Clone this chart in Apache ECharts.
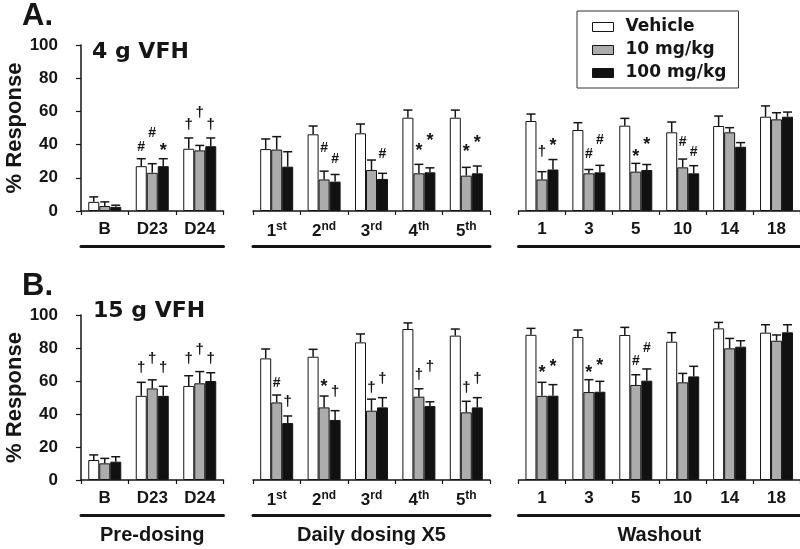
<!DOCTYPE html>
<html><head><meta charset="utf-8">
<script src="https://cdn.jsdelivr.net/npm/echarts@6/dist/echarts.min.js"></script>
<style>html,body{margin:0;padding:0;background:#fff}#c{width:800px;height:549px}</style>
</head><body><div id="c"></div>
<script>
// ---------------- DATA ----------------
const seriesNames = ['Vehicle', '10 mg/kg', '100 mg/kg'];
const groupNames = ['Pre-dosing', 'Daily dosing X5', 'Washout'];
const catsPre = ['B', 'D23', 'D24'];
const catsDaily = ['1st', '2nd', '3rd', '4th', '5th'];
const catsWash = ['1', '3', '5', '10', '14', '18'];
const yTicks = [0, 20, 40, 60, 80, 100];
const panelLetters = ['A.', 'B.'];
const panelTitles = ['4 g VFH', '15 g VFH'];
const yName = '% Response';

// column order: B, D23, D24, 1st..5th, washout 1, 3, 5, 10, 14, 18
// Panel A (4 g VFH)
const vehA      = [5.5, 27, 37.5, 37.3, 46.2, 46.8, 56.2, 56.2, 54.2, 48.8, 51.4, 47.4, 51.2, 56.8];
const vehA_err  = [3, 4.5, 6.5, 6.1, 5, 5.6, 4.6, 4.6, 4.2, 4.4, 4.4, 6.2, 6, 6.5];
const lowA      = [3, 23, 36.5, 37, 19, 24.7, 22.7, 21.3, 19, 22.7, 23.7, 26.3, 47.4, 55.2];
const lowA_err  = [2.5, 5.5, 3, 7.8, 5, 6, 5.4, 5, 4.7, 2.3, 5, 5, 2.8, 4];
const highA     = [2.5, 27, 39, 26.7, 17.7, 19.3, 23.3, 22.7, 25, 23.3, 24.7, 22.7, 38.7, 56.8];
const highA_err = [1, 4.5, 5, 9, 4.3, 3.4, 2.7, 4.4, 6, 4.2, 3.3, 4.6, 2.5, 2.8];
const vehA_sig  = ['', '#', '†', '', '', '', '', '', '', '', '', '', '', ''];
const vehA_lvl  = [0, 38.7, 51.8, 0, 0, 0, 0, 0, 0, 0, 0, 0, 0, 0];
const lowA_sig  = ['', '#', '†', '', '#', '', '*', '*', '†', '#', '*', '#', '', ''];
const lowA_lvl  = [0, 46.8, 58.9, 0, 37.8, 0, 38.7, 37.8, 35.7, 34.3, 35.1, 41.7, 0, 0];
const highA_sig = ['', '*', '†', '', '#', '#', '*', '*', '*', '#', '*', '#', '', ''];
const highA_lvl = [0, 38.7, 51.8, 0, 31.1, 34.1, 44.8, 43.2, 41.7, 42.8, 42.2, 35.7, 0, 0];

// Panel B (15 g VFH)
const vehB      = [12.1, 51, 57, 73.7, 74.7, 83.4, 91.5, 87.5, 88, 86.7, 87.9, 83.8, 91.9, 89.3];
const vehB_err  = [3.1, 8.2, 6.2, 5.7, 4.5, 5.1, 3.7, 4, 3.9, 4.2, 4.6, 5.5, 3.6, 4.8];
const lowB      = [10.1, 55.5, 58.6, 47, 44, 42, 50.5, 41, 51, 53.3, 57.6, 59.2, 79.8, 84.4];
const lowB_err  = [3, 5.2, 7.1, 4.5, 6.9, 7, 4.8, 6.7, 8.2, 7.5, 6.2, 5.4, 6, 3.5];
const highB     = [11.1, 51, 60, 34.5, 36.4, 44, 44.8, 44, 51.1, 53.5, 60.2, 62.8, 80.8, 89.5];
const highB_err = [3, 5.8, 5, 4.3, 5.6, 5.9, 2.6, 5.9, 6.7, 6.3, 7.1, 6.1, 3.6, 4.6];
const vehB_sig  = ['', '†', '†', '', '', '', '', '', '', '', '', '', '', ''];
const vehB_lvl  = [0, 67.7, 73.7, 0, 0, 0, 0, 0, 0, 0, 0, 0, 0, 0];
const lowB_sig  = ['', '†', '†', '#', '*', '†', '†', '†', '*', '*', '#', '', '', ''];
const lowB_lvl  = [0, 73.7, 78.8, 58.6, 59, 55.6, 63.6, 55.6, 67.1, 67.1, 72.3, 0, 0, 0];
const highB_sig = ['', '†', '†', '†', '†', '†', '†', '†', '*', '*', '#', '', '', ''];
const highB_lvl = [0, 67.7, 73.7, 47.5, 53.5, 61, 68.3, 61.6, 71.1, 71.7, 79.8, 0, 0, 0];

// ---------------- BUILD ----------------
const panels = [
  { means: [vehA, lowA, highA], errs: [vehA_err, lowA_err, highA_err], sigs: [vehA_sig, lowA_sig, highA_sig], lvls: [vehA_lvl, lowA_lvl, highA_lvl] },
  { means: [vehB, lowB, highB], errs: [vehB_err, lowB_err, highB_err], sigs: [vehB_sig, lowB_sig, highB_sig], lvls: [vehB_lvl, lowB_lvl, highB_lvl] }
];
const segCats = [catsPre, catsDaily, catsWash];
const segStart = [0, catsPre.length, catsPre.length + catsDaily.length];

const rowsLayout = [{ top: 45, height: 166 }, { top: 315, height: 165 }];
const colsLayout = [{ left: 81, width: 142.5 }, { left: 253, width: 237 }, { left: 518.5, width: 285 }];
const fills = ['#ffffff', '#acacac', '#111111'];
const BAR_W = 11;
const INK = '#151515';
const FONT = 'Liberation Sans, Arial, sans-serif';
const symFont = { '#': 14, '†': 15, '*': 18 };
const symShift = { '#': 0, '†': 0, '*': 4 };

const grids = [], xAxes = [], yAxes = [], series = [];
const labelFmt = v => {
  const m = String(v).match(/^(\d+)(st|nd|rd|th)$/);
  return m ? '{n|' + m[1] + '}{s|' + m[2] + '}' : v;
};

rowsLayout.forEach((row, r) => {
  colsLayout.forEach((col, c) => {
    const g = r * 3 + c;
    grids.push({ left: col.left, width: col.width, top: row.top, height: row.height, containLabel: false });
    const cats = segCats[c];
    xAxes.push({
      type: 'category', gridIndex: g, data: cats, boundaryGap: true,
      axisLine: { lineStyle: { color: INK, width: 1.5 } },
      axisTick: { show: true, interval: 0, length: 4, lineStyle: { color: INK, width: 1.2 } },
      axisLabel: {
        interval: 0, margin: 10, color: INK, fontFamily: FONT, fontWeight: 'bold', fontSize: 17,
        formatter: labelFmt,
        rich: {
          n: { fontFamily: FONT, fontWeight: 'bold', fontSize: 17, color: INK, lineHeight: 20 },
          s: { fontFamily: FONT, fontWeight: 'bold', fontSize: 12, color: INK, lineHeight: 12, verticalAlign: 'top' }
        }
      },
      splitLine: { show: false }
    });
    xAxes.push({
      type: 'category', gridIndex: g, data: cats, position: 'bottom', offset: 35,
      axisLine: { lineStyle: { color: INK, width: 3 } },
      axisTick: { show: false }, axisLabel: { show: false }, splitLine: { show: false },
      name: r === 1 ? groupNames[c] : '', nameLocation: 'middle', nameGap: 10,
      nameTextStyle: { fontFamily: FONT, fontWeight: 'bold', fontSize: 20, color: INK }
    });
    yAxes.push({
      type: 'value', gridIndex: g, min: yTicks[0], max: yTicks[yTicks.length - 1], interval: yTicks[1] - yTicks[0],
      show: c === 0,
      axisLine: { show: true, lineStyle: { color: INK, width: 1.5 } },
      axisTick: { show: true, length: 5, lineStyle: { color: INK, width: 1.2 } },
      axisLabel: { margin: 23, color: INK, fontFamily: FONT, fontWeight: 'bold', fontSize: 17 },
      splitLine: { show: false },
      name: c === 0 ? yName : '', nameLocation: 'middle', nameRotate: 90, nameGap: 52,
      nameTextStyle: { fontFamily: FONT, fontWeight: 'bold', fontSize: 22, color: INK }
    });
    const p = panels[r];
    const st = segStart[c], en = st + cats.length;
    for (let s = 0; s < 3; s++) {
      series.push({
        type: 'bar', name: seriesNames[s], xAxisIndex: 2 * g, yAxisIndex: g,
        data: p.means[s].slice(st, en), barWidth: BAR_W, barGap: '0%',
        itemStyle: { color: fills[s], borderColor: INK, borderWidth: 1 },
        silent: true
      });
    }
    for (let s = 0; s < 3; s++) {
      const means = p.means[s].slice(st, en);
      const errs = p.errs[s].slice(st, en);
      const sigs = p.sigs[s].slice(st, en);
      const lvls = p.lvls[s].slice(st, en);
      series.push({
        type: 'custom', xAxisIndex: 2 * g, yAxisIndex: g, silent: true, z: 5,
        data: means.map((m, i) => [i, m]),
        renderItem: (params, api) => {
          const i = params.dataIndex;
          const base = api.coord([i, means[i]]);
          const tp = api.coord([i, means[i] + errs[i]]);
          const cx = base[0] + (s - 1) * BAR_W;
          const children = [
            { type: 'line', shape: { x1: cx, y1: base[1], x2: cx, y2: tp[1] }, style: { stroke: INK, lineWidth: 1.5 } },
            { type: 'line', shape: { x1: cx - 4.5, y1: tp[1], x2: cx + 4.5, y2: tp[1] }, style: { stroke: INK, lineWidth: 1.5 } }
          ];
          const sym = sigs[i];
          if (sym) {
            const sy = api.coord([i, lvls[i]])[1] + symShift[sym];
            children.push({
              type: 'text', x: cx, y: sy,
              style: { text: sym, fill: INK, font: 'bold ' + symFont[sym] + 'px ' + FONT,
                align: 'center', verticalAlign: 'middle', textAlign: 'center', textVerticalAlign: 'middle' }
            });
          }
          return { type: 'group', children };
        }
      });
    }
  });
});

const titles = [
  { text: panelLetters[0], left: 22, top: 1, padding: 0, textStyle: { fontFamily: FONT, fontWeight: 'bold', fontSize: 31, color: INK } },
  { text: panelTitles[0], left: 92, top: 41, padding: 0, textStyle: { fontFamily: 'DejaVu Sans', fontWeight: 'bold', fontSize: 22, color: INK } },
  { text: panelLetters[1], left: 22, top: 271, padding: 0, textStyle: { fontFamily: FONT, fontWeight: 'bold', fontSize: 31, color: INK } },
  { text: panelTitles[1], left: 93, top: 300, padding: 0, textStyle: { fontFamily: 'DejaVu Sans', fontWeight: 'bold', fontSize: 22, color: INK } }
];

const chart = echarts.init(document.getElementById('c'), null, { renderer: 'canvas' });
chart.setOption({
  animation: false,
  backgroundColor: '#fff',
  title: titles,
  legend: {
    data: seriesNames, left: 577, top: 11, orient: 'vertical', icon: 'rect',
    itemWidth: 21, itemHeight: 9, itemGap: 5,
    borderColor: '#333', borderWidth: 1, padding: [7, 12, 6, 15],
    itemStyle: { borderColor: INK, borderWidth: 1 },
    textStyle: { fontFamily: 'DejaVu Sans', fontWeight: 'bold', fontSize: 17, color: INK, lineHeight: 18, padding: [0, 0, 0, 7] }
  },
  grid: grids, xAxis: xAxes, yAxis: yAxes, series: series
});
</script></body></html>
